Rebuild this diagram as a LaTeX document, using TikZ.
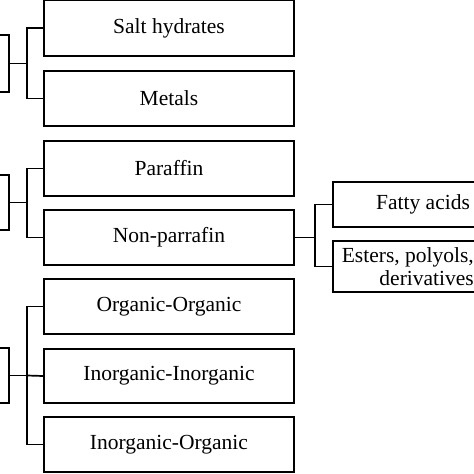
\documentclass[tikz,border=0pt]{standalone}
\usepackage{fontspec}
\setmainfont{Liberation Serif}
\begin{document}
\begin{tikzpicture}[x=1pt,y=-1pt,
  box/.style={draw=black,line width=1.7pt,rectangle,inner sep=0pt,font=\fontsize{21.5}{23}\selectfont},
  lbl/.style={font=\fontsize{21.5}{23}\selectfont},
  conn/.style={draw=black,line width=1.7pt}]
\useasboundingbox (0,0) rectangle (474,474);
\clip (0,0) rectangle (474,474);
% cut-off left boxes
\node[box,minimum width=120pt,minimum height=57pt] (g1) at (-51,63.5) {};
\node[box,minimum width=120pt,minimum height=55pt] (g2) at (-51,202.5) {};
\node[box,minimum width=120pt,minimum height=55pt] (g3) at (-51,375.5) {};
% main boxes
\node[box,minimum width=250pt,minimum height=56pt] (s) at (169,28) {Salt hydrates};
\node[box,minimum width=250pt,minimum height=55pt] (m) at (169,98.5) {Metals};
\node[box,minimum width=250pt,minimum height=55pt] (p) at (169,168.5) {Paraffin};
\node[box,minimum width=250pt,minimum height=55pt] (n) at (169,237.5) {Non-parrafin};
\node[box,minimum width=250pt,minimum height=55pt] (o) at (169,306.5) {Organic-Organic};
\node[box,minimum width=250pt,minimum height=54pt] (ii) at (169,376) {Inorganic-Inorganic};
\node[box,minimum width=250pt,minimum height=55pt] (io) at (169,444.5) {Inorganic-Organic};
% right boxes
\node[box,minimum width=200pt,minimum height=45pt] (fa) at (433,204.5) {};
\node[lbl] (fat) at (423,204.5) {Fatty acids};
\node[box,minimum width=200pt,minimum height=51pt] (es) at (433,266.5) {};
\node[lbl,align=right,anchor=east,inner sep=0pt] (est) at (474,266.5) {Esters, polyols,\\derivatives};
% connectors
\coordinate (b1) at (27,63.5);
\coordinate (b2) at (27,202.5);
\coordinate (b3) at (27,375.5);
\coordinate (b4) at (315,237.5);
\draw[conn] (g1.east) -- (b1);
\draw[conn] (s.west) -| (b1) |- (m.west);
\draw[conn] (g2.east) -- (b2);
\draw[conn] (p.west) -| (b2) |- (n.west);
\draw[conn] (g3.east) -- (b3);
\draw[conn] (o.west) -| (b3) |- (io.west);
\draw[conn] (ii.west) -- (b3);
\draw[conn] (n.east) -- (b4);
\draw[conn] (fa.west) -| (b4) |- (es.west);
\end{tikzpicture}
\end{document}
